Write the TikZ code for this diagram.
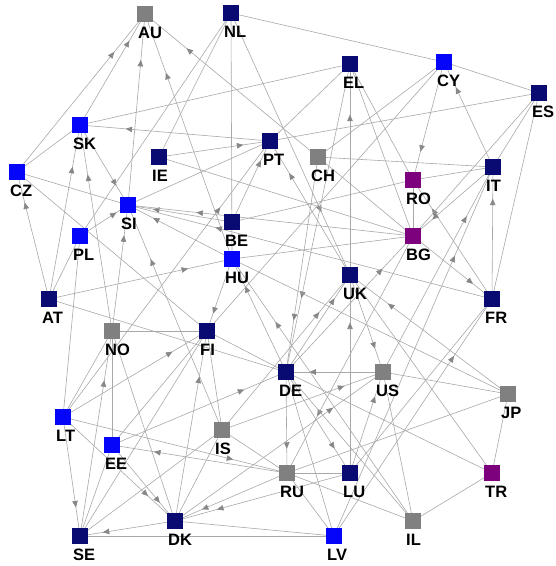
\documentclass[tikz,border=0pt]{standalone}
\usepackage{fontspec}
\setmainfont{Liberation Sans}
\usetikzlibrary{arrows.meta,decorations.markings}
\pgfdeclarelayer{bg}
\pgfsetlayers{bg,main}
\definecolor{nv}{RGB}{10,10,115}
\definecolor{bl}{RGB}{5,5,250}
\definecolor{gr}{RGB}{128,128,128}
\definecolor{pu}{RGB}{125,0,125}
\definecolor{lg}{RGB}{168,168,168}
\definecolor{ag}{RGB}{135,135,135}
\begin{document}
\begin{tikzpicture}[x=1pt,y=-1pt,
  sq/.style={draw=#1, fill=#1, minimum size=15pt, inner sep=0pt, line width=0.3pt},
  lbl/.style={font=\fontsize{16.5}{18}\selectfont\bfseries, inner sep=0pt, text=black},
  ed/.style={draw=lg, line width=0.6pt},
  arr/.style={ed, postaction={decorate}, decoration={markings, mark=at position 0.76 with {\arrow{Triangle[length=6.5pt,width=5.5pt,color=ag]}}}}]
\useasboundingbox (0,0) rectangle (556,566);
\foreach \n/\x/\y/\c in {AU/145/14/gr, NL/231/13/nv, EL/350/64/nv, CY/444/62/bl, ES/539/93/nv,
  SK/80/125/bl, PT/270/141/nv, IE/159/157/nv, CH/318/157/gr, CZ/17/172/bl, RO/413/180/pu, IT/493/167/nv,
  SI/128/205/bl, PL/80/236/bl, BE/232/222/nv, HU/232/259/bl, BG/413/236/pu, UK/350/275/nv,
  AT/49/299/nv, FR/492/299/nv, NO/112/331/gr, FI/207/331/nv, DE/286/372/nv, US/383/372/gr, JP/508/394/gr,
  LT/63/417/bl, IS/222/430/gr, EE/112/445/bl, RU/287/473/gr, LU/350/473/nv, TR/492/473/pu,
  DK/175/521/nv, IL/413/521/gr, SE/80/536/nv, LV/334/536/bl} {
  \node[sq=\c] (\n) at (\x,\y) {};
  \node[lbl, anchor=base west] (\n-lab) at (\x-7,\y+24.5) {\n};
}
\begin{pgfonlayer}{bg}
\foreach \a/\b in {CZ/AU, SK/AU, SI/AU, HU/AU, CH/AU, PT/SK, IE/PT, UK/EL, LU/UK, CY/RO, IT/CY, FR/IT,
  NL/UK, AT/CZ, AT/SK, NO/SK, SK/SI, AT/HU, PL/SI, NO/SI, IS/SI, HU/SI, BE/SI, FR/SI, BG/SI, HU/FI,
  UK/PT, BG/FR, DE/BG, DE/UK, UK/US, JP/UK, US/DE, DE/RU, DE/LU, LU/US, US/IT, SE/NO, LT/SE,
  DK/SE, RU/DK, LU/DK, EE/DK, LT/DK, LT/RU, RU/EE, EE/DE, CH/DE, BE/PT, EL/DE, IS/UK, IL/HU, DE/HU,
  LT/FI, LV/FR, LV/IT, FR/RO, IT/BG, LT/PT, DK/FI, DK/US, BG/RU, IS/US}
  \draw[arr] (\a.center) -- (\b.center);
\foreach \a/\b in {NL/CY, NL/IE, NL/PL, NL/HU, CY/ES, SK/EL, ES/PT, CZ/SK, EL/PT, EL/RO, EL/BG, CY/CH,
  CY/FI, ES/IT, ES/BG, ES/FR, IT/RO, CH/IT, RO/BG, CH/BG, AT/DE, AT/PL, PL/LT, CZ/SI, CZ/FI, NO/FI,
  NO/EE, NO/DK, FI/SE, EE/FI, DE/TR, UK/TR, DE/LV, DE/IL, SE/LV, DK/LV, IS/DK, FI/IS,
  JP/US, JP/TR, JP/RU, HU/JP, IL/TR, IL/US, IL/RU, FR/LU, RU/LV, IS/RU, BE/RO, HU/BG,
  IE/BG, SE/EE, SE/IS, SI/PT, LU/RU, NO/LT, FI/DE}
  \draw[ed] (\a.center) -- (\b.center);
\end{pgfonlayer}
\end{tikzpicture}
\end{document}
